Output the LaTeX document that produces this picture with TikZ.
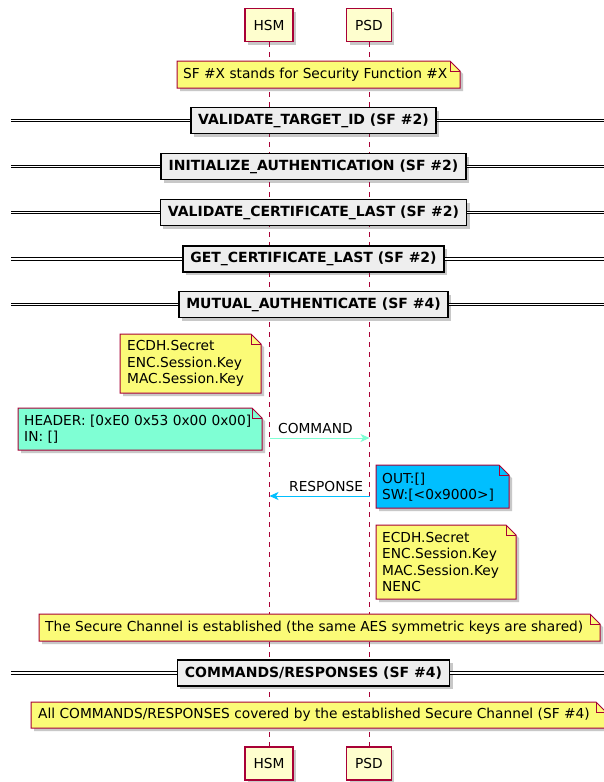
\documentclass[tikz,border=0pt]{standalone}
\usepackage{fontspec}
\setmainfont{DejaVu Sans}
\usetikzlibrary{shadows,arrows.meta}
\definecolor{pumlred}{HTML}{A80036}
\definecolor{pumlpart}{HTML}{FEFECE}
\definecolor{pumlnote}{HTML}{FBFB77}
\definecolor{aquam}{HTML}{7FFFD4}
\definecolor{dsky}{HTML}{00BFFF}
\definecolor{sepgray}{HTML}{EEEEEE}
\newcommand\drawnote[5]{%
  \path[notebody, fill=#5] (#1,#2) -- (#3-10,#2) -- (#3,#2+10) -- (#3,#4) -- (#1,#4) -- cycle;
  \draw[notefold] (#3-10,#2) -- (#3-10,#2+10) -- (#3,#2+10);
}
\begin{document}
\begin{tikzpicture}[x=1pt,y=-1pt, font=\fontsize{13.75}{16.3}\selectfont,
  pshadow/.style={drop shadow={shadow xshift=3pt, shadow yshift=-3pt, fill=black!70, opacity=.3}},
  part/.style={draw=pumlred, fill=pumlpart, line width=1.2pt, minimum height=33pt, inner xsep=8.5pt, inner ysep=0pt, pshadow},
  lifeline/.style={draw=pumlred, line width=1pt, dash pattern=on 5pt off 5pt},
  divbox/.style={draw=black, fill=sepgray, line width=1.6pt, minimum height=26pt, inner xsep=7.5pt, inner ysep=0pt, font=\fontsize{14}{16}\selectfont\bfseries, pshadow},
  dbl/.style={draw=black, line width=1pt, double=white, double distance=1.6pt},
  notebody/.style={draw=pumlred, line width=1pt, pshadow},
  notefold/.style={draw=pumlred, line width=1pt},
  notetext/.style={anchor=west, align=left, inner sep=0pt},
  msg/.style={line width=1pt, -{Stealth[length=9pt,width=8pt,inset=2.5pt]}},
  lbl/.style={inner sep=0pt, anchor=base west}]
\useasboundingbox (0,0) rectangle (604,782);
\clip (0,0) rectangle (604,782);
\fill[white] (0,0) rectangle (604,782);

% participants
\node[part] (hsmT) at (269,25) {HSM};
\node[part] (psdT) at (369,25) {PSD};
\node[part] (hsmB) at (269,763.5) {HSM};
\node[part] (psdB) at (369,763.5) {PSD};
\draw[lifeline] (hsmT.south) -- (hsmB.north);
\draw[lifeline] (psdT.south) -- (psdB.north);

% note SF
\drawnote{177}{61}{460}{88}{pumlnote}
\node[notetext] (n0) at (183,74.5) {SF \#X stands for Security Function \#X};

% dividers
\node[divbox] (s1) at (313.5,120.5) {VALIDATE\_TARGET\_ID (SF \#2)};
\coordinate (s1l) at (11,120.5); \coordinate (s1r) at (604,120.5);
\draw[dbl] (s1l) -- (s1.west); \draw[dbl] (s1.east) -- (s1r);

\node[divbox] (s2) at (313.5,166.5) {INITIALIZE\_AUTHENTICATION (SF \#2)};
\coordinate (s2l) at (11,166.5); \coordinate (s2r) at (604,166.5);
\draw[dbl] (s2l) -- (s2.west); \draw[dbl] (s2.east) -- (s2r);

\node[divbox] (s3) at (313.5,212.5) {VALIDATE\_CERTIFICATE\_LAST (SF \#2)};
\coordinate (s3l) at (11,212.5); \coordinate (s3r) at (604,212.5);
\draw[dbl] (s3l) -- (s3.west); \draw[dbl] (s3.east) -- (s3r);

\node[divbox] (s4) at (313.5,259) {GET\_CERTIFICATE\_LAST (SF \#2)};
\coordinate (s4l) at (11,259); \coordinate (s4r) at (604,259);
\draw[dbl] (s4l) -- (s4.west); \draw[dbl] (s4.east) -- (s4r);

\node[divbox] (s5) at (313.5,304.5) {MUTUAL\_AUTHENTICATE (SF \#4)};
\coordinate (s5l) at (11,304.5); \coordinate (s5r) at (604,304.5);
\draw[dbl] (s5l) -- (s5.west); \draw[dbl] (s5.east) -- (s5r);

% notes around messages
\drawnote{120}{334}{261}{393}{pumlnote}
\node[notetext] (n1) at (127,363.5) {ECDH.Secret\\ENC.Session.Key\\MAC.Session.Key};

\drawnote{18}{408}{262}{450}{aquam}
\node[notetext] (n2) at (24,429.5) {HEADER: [0xE0 0x53 0x00 0x00]\\IN: []};

\coordinate (c1a) at (269.5,438); \coordinate (c1b) at (369.5,438);
\draw[msg, draw=aquam] (c1a) -- (c1b);
\node[lbl] (c1l) at (278,433) {COMMAND};

\drawnote{376}{465}{509}{508}{dsky}
\node[notetext] (n3) at (382,487) {OUT:[]\\SW:[<0x9000>]};

\coordinate (r1a) at (369.5,496); \coordinate (r1b) at (269.5,496);
\draw[msg, draw=dsky] (r1a) -- (r1b);
\node[lbl] (r1l) at (289,491) {RESPONSE};

\drawnote{376}{525}{516}{599}{pumlnote}
\node[notetext] (n4) at (382,562) {ECDH.Secret\\ENC.Session.Key\\MAC.Session.Key\\NENC};

\drawnote{39}{614}{600}{641}{pumlnote}
\node[notetext] (n5) at (45,627.5) {The Secure Channel is established (the same AES symmetric keys are shared)};

\node[divbox] (s6) at (313.5,673) {COMMANDS/RESPONSES (SF \#4)};
\coordinate (s6l) at (11,673); \coordinate (s6r) at (604,673);
\draw[dbl] (s6l) -- (s6.west); \draw[dbl] (s6.east) -- (s6r);

\drawnote{31}{702}{606}{728}{pumlnote}
\node[notetext] (n6) at (38,715) {All COMMANDS/RESPONSES covered by the established Secure Channel (SF \#4)};
\end{tikzpicture}
\end{document}
